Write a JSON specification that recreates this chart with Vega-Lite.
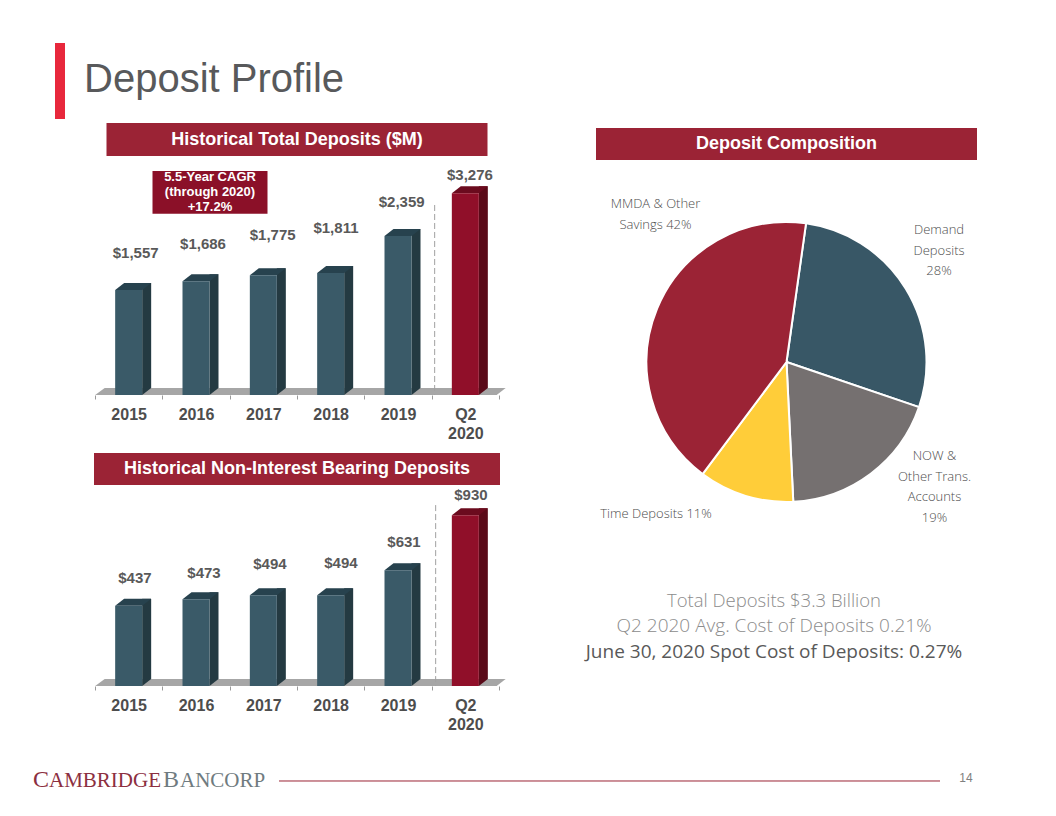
{"$schema":"https://vega.github.io/schema/vega-lite/v6.json","background":"#ffffff","padding":{"left":33,"top":43,"right":18,"bottom":21},"config":{"view":{"stroke":null},"font":"Liberation Sans"},"datasets":{"total":[{"year":"2015","value":1557,"base":0},{"year":"2016","value":1686,"base":0},{"year":"2017","value":1775,"base":0},{"year":"2018","value":1811,"base":0},{"year":"2019","value":2359,"base":0},{"year":"Q2 2020","value":3276,"base":0}],"nib":[{"year":"2015","value":437,"base":0},{"year":"2016","value":473,"base":0},{"year":"2017","value":494,"base":0},{"year":"2018","value":494,"base":0},{"year":"2019","value":631,"base":0},{"year":"Q2 2020","value":930,"base":0}],"comp":[{"segment":"Demand Deposits","share":28,"rank":1,"label":"Demand|Deposits|28%"},{"segment":"NOW & Other Trans. Accounts","share":19,"rank":2,"label":"NOW &|Other Trans.|Accounts|19%"},{"segment":"Time Deposits","share":11,"rank":3,"label":"Time Deposits 11%"},{"segment":"MMDA & Other Savings","share":42,"rank":4,"label":"MMDA & Other|Savings 42%"}]},"vconcat":[{"vconcat":[{"hconcat":[{"width":10,"height":76,"view":{"fill":"#e8283c","stroke":null},"data":{"values":[{"p":0.5}]},"mark":{"type":"rule","color":"#e8283c","strokeWidth":0},"encoding":{"y":{"field":"p","type":"quantitative","axis":null,"scale":{"domain":[0,1]}}}},{"width":932,"height":76,"data":{"values":[{"t":"Deposit Profile"}]},"mark":{"type":"text","align":"left","baseline":"middle","fontSize":40,"color":"#58595b","dy":-1,"dx":-466},"encoding":{"text":{"field":"t"}}}],"spacing":19,"bounds":"flush"},{"hconcat":[{"vconcat":[{"width":381,"height":33,"view":{"fill":"#9b2335","stroke":null},"data":{"values":[{"t":"Historical Total Deposits ($M)"}]},"mark":{"type":"text","align":"center","baseline":"middle","fontSize":18,"fontWeight":"bold","color":"#ffffff"},"encoding":{"text":{"field":"t"}}},{"width":404,"height":239,"data":{"name":"total"},"encoding":{"x":{"field":"year","type":"nominal","title":null,"scale":{"type":"band","paddingInner":0,"paddingOuter":0,"domain":["2015","2016","2017","2018","2019","Q2 2020"]},"axis":{"domain":false,"grid":false,"labelAngle":0,"labelFontSize":16,"labelFontWeight":"bold","labelColor":"#4d4d4d","labelPadding":7,"labelLineHeight":19,"tickBand":"extent","tickSize":4,"tickColor":"#9a9a9a","labelExpr":"datum.label == 'Q2 2020' ? ['Q2','2020'] : datum.label"}}},"layer":[{"transform":[{"filter":"datum.year == '2015'"}],"mark":{"type":"point","filled":true,"size":4,"opacity":1,"strokeWidth":0,"color":"#a6a6a6","shape":"M-33.5,0 L-24,-7 L377,-7 L368,0 Z"},"encoding":{"y":{"field":"base","type":"quantitative","axis":null,"scale":{"domain":[0,2359,3276],"range":[239,80,37.3],"nice":false,"zero":false}}}},{"mark":{"type":"bar","width":9,"xOffset":18,"yOffset":-7},"encoding":{"y":{"field":"value","type":"quantitative","axis":null},"color":{"condition":{"test":"datum.year == 'Q2 2020'","value":"#5a0a18"},"value":"#243a42"}}},{"mark":{"type":"point","filled":true,"size":4,"opacity":1,"strokeWidth":0,"shape":"M13.5,0 L22.5,-7 L13.5,-7 Z"},"encoding":{"y":{"field":"base","type":"quantitative","axis":null},"color":{"condition":{"test":"datum.year == 'Q2 2020'","value":"#5a0a18"},"value":"#243a42"}}},{"mark":{"type":"point","filled":true,"size":4,"opacity":1,"strokeWidth":0,"shape":"M-13.5,0 L-4.5,-7 L22.5,-7 L13.5,0 Z"},"encoding":{"y":{"field":"value","type":"quantitative","axis":null},"color":{"condition":{"test":"datum.year == 'Q2 2020'","value":"#6b0b1e"},"value":"#27424e"}}},{"mark":{"type":"bar","width":27},"encoding":{"y":{"field":"value","type":"quantitative","axis":null},"color":{"condition":{"test":"datum.year == 'Q2 2020'","value":"#900f29"},"value":"#3a5a68"}}},{"data":{"values":[{"year":"Q2 2020","top":3025,"bottom":0}]},"mark":{"type":"rule","color":"#a0a0a0","strokeWidth":1,"strokeDash":[6,3],"xOffset":3},"encoding":{"x":{"field":"year","type":"nominal","bandPosition":0},"y":{"field":"top","type":"quantitative","axis":null},"y2":{"field":"bottom"}}},{"mark":{"type":"text","align":"center","baseline":"middle","fontSize":15,"fontWeight":"bold","color":"#595959","dx":{"expr":"{'2015':7,'2016':7,'2017':9.3,'2018':5.3,'2019':3.7,'Q2 2020':4.6}[datum.year]"},"dy":{"expr":"{'2015':-37,'2016':-37.7,'2017':-40,'2018':-45,'2019':-34.5,'Q2 2020':-18}[datum.year]"}},"encoding":{"y":{"field":"value","type":"quantitative","axis":null},"text":{"field":"value","type":"quantitative","format":"$,d"}}},{"data":{"values":[{"year":"2016","top":3755,"bottom":2838}]},"mark":{"type":"rect","width":115,"xOffset":14,"color":"#8b1028"},"encoding":{"y":{"field":"top","type":"quantitative","axis":null},"y2":{"field":"bottom"}}},{"data":{"values":[{"year":"2016","mid":3626,"note":"5.5-Year CAGR|(through 2020)|+17.2%"}]},"mark":{"type":"text","align":"center","baseline":"middle","fontSize":13,"fontWeight":"bold","color":"#ffffff","lineHeight":15,"lineBreak":"|","dx":14},"encoding":{"y":{"field":"mid","type":"quantitative","axis":null},"text":{"field":"note"}}}]},{"width":404,"height":58,"data":{"values":[{"p":0.5}]},"mark":{"type":"rule","color":"#ffffff","strokeWidth":0},"encoding":{"y":{"field":"p","type":"quantitative","axis":null,"scale":{"domain":[0,1]}}}},{"width":406,"height":32,"view":{"fill":"#9b2335","stroke":null},"data":{"values":[{"t":"Historical Non-Interest Bearing Deposits|($M)"}]},"mark":{"type":"text","align":"center","baseline":"middle","fontSize":18,"fontWeight":"bold","color":"#ffffff","lineBreak":"|","lineHeight":24.5},"encoding":{"text":{"field":"t"}}},{"width":404,"height":201,"data":{"name":"nib"},"encoding":{"x":{"field":"year","type":"nominal","title":null,"scale":{"type":"band","paddingInner":0,"paddingOuter":0,"domain":["2015","2016","2017","2018","2019","Q2 2020"]},"axis":{"domain":false,"grid":false,"labelAngle":0,"labelFontSize":16,"labelFontWeight":"bold","labelColor":"#4d4d4d","labelPadding":7,"labelLineHeight":19,"tickBand":"extent","tickSize":4,"tickColor":"#9a9a9a","labelExpr":"datum.label == 'Q2 2020' ? ['Q2','2020'] : datum.label"}}},"layer":[{"transform":[{"filter":"datum.year == '2015'"}],"mark":{"type":"point","filled":true,"size":4,"opacity":1,"strokeWidth":0,"color":"#a6a6a6","shape":"M-33.5,0 L-24,-7 L377,-7 L368,0 Z"},"encoding":{"y":{"field":"base","type":"quantitative","axis":null,"scale":{"domain":[0,1095.5],"nice":false,"zero":false}}}},{"mark":{"type":"bar","width":9,"xOffset":18,"yOffset":-7},"encoding":{"y":{"field":"value","type":"quantitative","axis":null},"color":{"condition":{"test":"datum.year == 'Q2 2020'","value":"#5a0a18"},"value":"#243a42"}}},{"mark":{"type":"point","filled":true,"size":4,"opacity":1,"strokeWidth":0,"shape":"M13.5,0 L22.5,-7 L13.5,-7 Z"},"encoding":{"y":{"field":"base","type":"quantitative","axis":null},"color":{"condition":{"test":"datum.year == 'Q2 2020'","value":"#5a0a18"},"value":"#243a42"}}},{"mark":{"type":"point","filled":true,"size":4,"opacity":1,"strokeWidth":0,"shape":"M-13.5,0 L-4.5,-7 L22.5,-7 L13.5,0 Z"},"encoding":{"y":{"field":"value","type":"quantitative","axis":null},"color":{"condition":{"test":"datum.year == 'Q2 2020'","value":"#6b0b1e"},"value":"#27424e"}}},{"mark":{"type":"bar","width":27},"encoding":{"y":{"field":"value","type":"quantitative","axis":null},"color":{"condition":{"test":"datum.year == 'Q2 2020'","value":"#900f29"},"value":"#3a5a68"}}},{"data":{"values":[{"year":"Q2 2020","top":986,"bottom":0}]},"mark":{"type":"rule","color":"#a0a0a0","strokeWidth":1,"strokeDash":[6,3],"xOffset":4},"encoding":{"x":{"field":"year","type":"nominal","bandPosition":0},"y":{"field":"top","type":"quantitative","axis":null},"y2":{"field":"bottom"}}},{"mark":{"type":"text","align":"center","baseline":"middle","fontSize":15,"fontWeight":"bold","color":"#595959","dx":{"expr":"{'2015':6.3,'2016':8,'2017':6.6,'2018':10.3,'2019':6,'Q2 2020':5.6}[datum.year]"},"dy":{"expr":"{'2015':-27.7,'2016':-26.3,'2017':-31,'2018':-32,'2019':-28,'Q2 2020':-20}[datum.year]"}},"encoding":{"y":{"field":"value","type":"quantitative","axis":null},"text":{"field":"value","type":"quantitative","format":"$,d"}}}]}],"spacing":0,"center":true,"bounds":"flush"},{"vconcat":[{"width":381,"height":5,"data":{"values":[{"p":0.5}]},"mark":{"type":"rule","color":"#ffffff","strokeWidth":0},"encoding":{"y":{"field":"p","type":"quantitative","axis":null,"scale":{"domain":[0,1]}}}},{"width":381,"height":32,"view":{"fill":"#9b2335","stroke":null},"data":{"values":[{"t":"Deposit Composition"}]},"mark":{"type":"text","align":"center","baseline":"middle","fontSize":18,"fontWeight":"bold","color":"#ffffff"},"encoding":{"text":{"field":"t"}}},{"width":381,"height":404,"data":{"name":"comp"},"layer":[{"mark":{"type":"arc","radius":140,"stroke":"#ffffff","strokeWidth":2},"encoding":{"theta":{"field":"share","type":"quantitative","stack":true,"scale":{"range":[0.14,6.4232]}},"order":{"field":"rank"},"color":{"field":"segment","type":"nominal","legend":null,"scale":{"domain":["Demand Deposits","NOW & Other Trans. Accounts","Time Deposits","MMDA & Other Savings"],"range":["#385766","#757070","#ffcd39","#9b2335"]}}}},{"mark":{"type":"text","align":"center","baseline":"middle","font":"Open Sans","fontWeight":300,"fontSize":13,"color":"#4d4d4d","lineBreak":"|","lineHeight":20.5,"dx":{"expr":"{'Demand Deposits':152.5,'NOW & Other Trans. Accounts':148,'Time Deposits':-130.5,'MMDA & Other Savings':-131}[datum.segment]"},"dy":{"expr":"{'Demand Deposits':-132,'NOW & Other Trans. Accounts':94,'Time Deposits':152,'MMDA & Other Savings':-158}[datum.segment]"}},"encoding":{"text":{"field":"label"}}}]},{"width":381,"height":117,"data":{"values":[{"t":"Total Deposits $3.3 Billion","line":1},{"t":"Q2 2020 Avg. Cost of Deposits 0.21%","line":2},{"t":"June 30, 2020 Spot Cost of Deposits: 0.27%","line":3}]},"mark":{"type":"text","align":"center","baseline":"middle","font":"Open Sans","fontWeight":{"expr":"datum.line == 3 ? 400 : 300"},"fontSize":{"expr":"datum.line == 1 ? 18.5 : 19"},"dx":-12.5,"dy":{"expr":"{'1':-21.8,'2':3.2,'3':29.2}[datum.line]"}},"encoding":{"text":{"field":"t"},"color":{"condition":{"test":"datum.line == 3","value":"#595959"},"value":"#8c8c8c"}}}],"spacing":0,"center":true,"bounds":"flush"}],"spacing":79}],"spacing":4,"center":true},{"hconcat":[{"width":240,"height":30,"data":{"values":[{"t":"C","part":"a"},{"t":"AMBRIDGE","part":"b"},{"t":"B","part":"c"},{"t":"ANCORP","part":"d"}]},"mark":{"type":"text","align":"left","baseline":"alphabetic","font":"Liberation Serif","dx":{"expr":"{a:-120,b:-104,c:10,d:27}[datum.part]"},"dy":7,"fontSize":{"expr":"(datum.part == 'a' || datum.part == 'c') ? 24 : 21"}},"encoding":{"text":{"field":"t"},"color":{"condition":{"test":"datum.part == 'a' || datum.part == 'b'","value":"#8c2f3f"},"value":"#6f7b80"}}},{"width":661,"height":30,"data":{"values":[{"p":0.467}]},"mark":{"type":"rule","color":"#9b2335","strokeWidth":1},"encoding":{"y":{"field":"p","type":"quantitative","axis":null,"scale":{"domain":[0,1]}}}},{"width":92,"height":30,"data":{"values":[{"t":"14"}]},"mark":{"type":"text","align":"center","baseline":"middle","fontSize":12,"color":"#808080","dx":-26,"dy":-2},"encoding":{"text":{"field":"t"}}}],"spacing":6,"bounds":"flush"}],"spacing":33,"center":true}
